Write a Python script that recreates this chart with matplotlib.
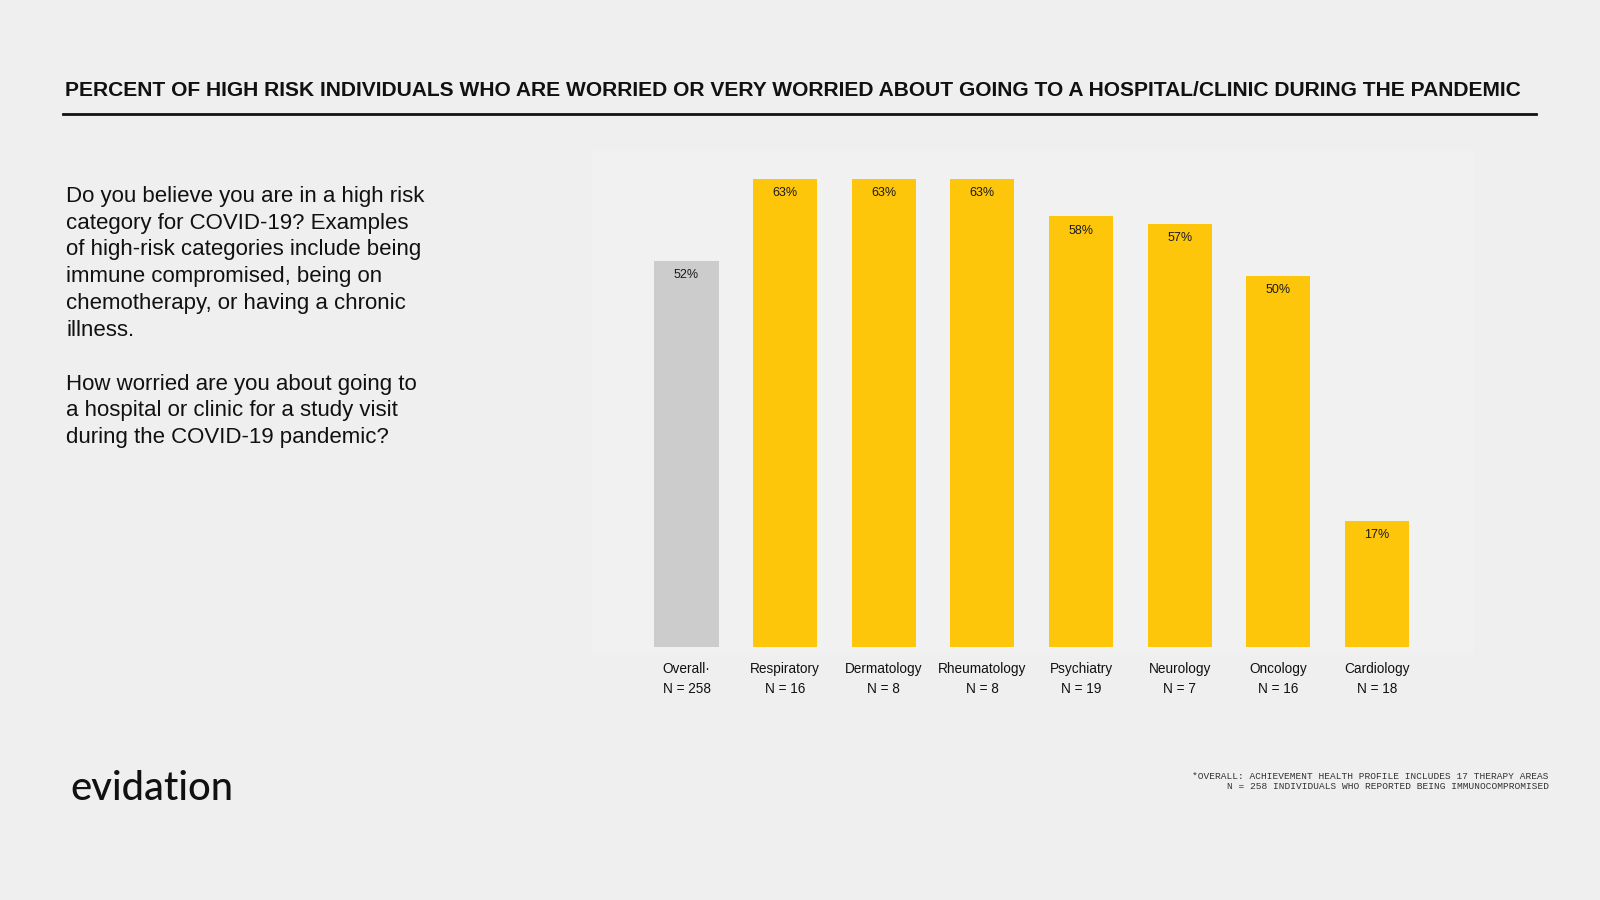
import matplotlib
matplotlib.use("Agg")
import matplotlib.pyplot as plt
from matplotlib.lines import Line2D

# -----------------------------
# Data
# -----------------------------
categories = ["Overall", "Respiratory", "Dermatology", "Rheumatology",
              "Psychiatry", "Neurology", "Oncology", "Cardiology"]
sample_sizes = [258, 16, 8, 8, 19, 7, 16, 18]
percent_worried = [52, 63, 63, 63, 58, 57, 50, 17]

title = ("PERCENT OF HIGH RISK INDIVIDUALS WHO ARE WORRIED OR VERY WORRIED "
         "ABOUT GOING TO A HOSPITAL/CLINIC DURING THE PANDEMIC")
question = ("Do you believe you are in a high risk\n"
            "category for COVID-19? Examples\n"
            "of high-risk categories include being\n"
            "immune compromised, being on\n"
            "chemotherapy, or having a chronic\n"
            "illness.\n\n"
            "How worried are you about going to\n"
            "a hospital or clinic for a study visit\n"
            "during the COVID-19 pandemic?")
footnote = ("*OVERALL: ACHIEVEMENT HEALTH PROFILE INCLUDES 17 THERAPY AREAS\n"
            "N = 258 INDIVIDUALS WHO REPORTED BEING IMMUNOCOMPROMISED")

BG = "#efefef"
YELLOW = "#fec60b"
GREY = "#cccccc"

W, H = 1568.0, 882.0  # layout reference grid


def fx(x):
    return x / W


def fy(y):
    return 1 - y / H


fig = plt.figure(figsize=(16, 9), dpi=100, facecolor=BG)
plt.rcParams["font.family"] = ["Liberation Sans", "DejaVu Sans"]

# -----------------------------
# Header
# -----------------------------
fig.text(fx(64), fy(89), title, fontsize=15.1, fontweight="bold",
         va="center", ha="left", color="#111111")
fig.add_artist(Line2D([fx(62), fx(1505)], [fy(112), fy(112)],
                      transform=fig.transFigure, color="#111111", lw=2))

fig.text(fx(65), fy(182), question, fontsize=16, va="top", ha="left",
         color="#111111", linespacing=1.365)

# -----------------------------
# Bar chart
# -----------------------------
ax = fig.add_axes([fx(580), fy(640), fx(1445) - fx(580), fy(148) - fy(640)])
ax.set_facecolor("#f1f1f1")
xs = list(range(len(categories)))
colors = [GREY] + [YELLOW] * (len(categories) - 1)
ax.bar(xs, percent_worried, width=0.65, color=colors)
ax.set_xlim(-0.96, len(categories) - 1 + 0.99)
ax.set_ylim(-0.8, 66.8)
for x, v in zip(xs, percent_worried):
    ax.text(x, v - 1.1, f"{v}%", ha="center", va="top", fontsize=9,
            color="#1a1a1a")
for s in ax.spines.values():
    s.set_visible(False)
ax.set_xticks([])
ax.set_yticks([])

labels = [f"{c}\u00b7\nN = {n}" if i == 0 else f"{c}\nN = {n}"
          for i, (c, n) in enumerate(zip(categories, sample_sizes))]
for x, lab in zip(xs, labels):
    ax.annotate(lab, xy=(x, 0), xycoords="data", xytext=(0, -11),
                textcoords="offset points", ha="center", va="top",
                fontsize=9.8, color="#111111", linespacing=1.5,
                annotation_clip=False)

# -----------------------------
# Footer
# -----------------------------
fig.text(fx(69), fy(773), "evidation", fontsize=28.7, family="Lato",
         fontweight="medium", va="center", ha="left", color="#111111")
fig.text(fx(1518), fy(766), footnote, fontsize=6.8, family="Liberation Mono",
         va="center", ha="right", multialignment="right", color="#333333",
         linespacing=1.15)

fig.savefig("out.png", dpi=100, facecolor=BG)
